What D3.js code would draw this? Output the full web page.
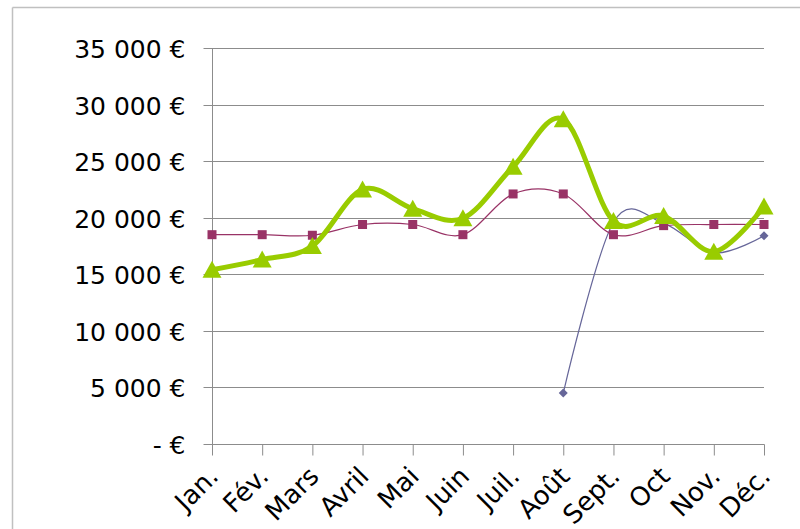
<!DOCTYPE html>
<html><head><meta charset="utf-8">
<script src="https://cdn.jsdelivr.net/npm/d3@7"></script>
<style>
html,body{margin:0;padding:0;background:#fff;}
svg{display:block;font-family:"DejaVu Sans",sans-serif;}
</style></head>
<body>
<svg id="c" width="800" height="529"></svg>
<script>
const months = ["Jan.","Fév.","Mars","Avril","Mai","Juin","Juil.","Août","Sept.","Oct","Nov.","Déc."];
const seriesBlue = [null,null,null,null,null,null,null,4500,19600,19500,16900,18400];
const seriesPurple = [18500,18500,18450,19400,19400,18500,22100,22100,18500,19300,19400,19400];
const seriesGreen = [15400,16300,17500,22500,20800,19950,24500,28700,19700,20150,17000,21000];
const yTicks = [0,5000,10000,15000,20000,25000,30000,35000];

const svg = d3.select("#c");
const x = d3.scalePoint().domain(months).range([212,764]).padding(0);
const y = d3.scaleLinear().domain([0,35000]).range([444,48]);

// chart area frame
svg.append("line").attr("x1",12.5).attr("x2",800).attr("y1",7.5).attr("y2",7.5).attr("stroke","#c0c0c0").attr("stroke-width",1.5);
svg.append("line").attr("x1",12.5).attr("x2",12.5).attr("y1",7.5).attr("y2",529).attr("stroke","#c0c0c0").attr("stroke-width",1.5);

const fmt = v => v === 0 ? "- €" : d3.format(",")(v).replace(/,/g," ") + " €";

// gridlines
svg.append("g").selectAll("line").data(yTicks.filter(v=>v>0)).join("line")
  .attr("x1",212).attr("x2",764)
  .attr("y1",d=>Math.round(y(d))+0.5).attr("y2",d=>Math.round(y(d))+0.5)
  .attr("stroke","#8c8c8c").attr("stroke-width",1);

// y axis
const yAxis = d3.axisLeft(y).tickValues(yTicks).tickSize(9).tickFormat(fmt);
const gy = svg.append("g").attr("transform","translate(212.5,0)").call(yAxis);
gy.select(".domain").attr("stroke","#8c8c8c").attr("d","M0,48V444.5");
gy.selectAll(".tick line").attr("stroke","#8c8c8c");
gy.selectAll(".tick text").attr("x",-27).attr("dy","0.36em").attr("font-size",25).attr("fill","#000").attr("font-family","DejaVu Sans");
gy.selectAll(".tick").attr("transform",d=>`translate(0,${Math.round(y(d))+0.5})`);

// x axis
const xAxis = d3.axisBottom(x).tickSize(11).tickFormat(d=>d);
const gx = svg.append("g").attr("transform","translate(0,444.5)").call(xAxis);
gx.select(".domain").attr("stroke","#8c8c8c").attr("d","M212,0H764.5");
gx.selectAll(".tick line").attr("stroke","#8c8c8c");
gx.selectAll(".tick text")
  .attr("font-size",26).attr("fill","#000").attr("font-family","DejaVu Sans")
  .attr("text-anchor","end").attr("dy","0.35em")
  .attr("transform","translate(1,27) rotate(-45)").attr("y",0).attr("x",0);

const curve = d3.curveCardinal.tension(0);
function drawSeries(vals, color, width){
  const line = d3.line().defined(d=>d.v!=null).x(d=>x(d.m)).y(d=>y(d.v)).curve(curve);
  const data = months.map((m,i)=>({m, v: vals[i]}));
  svg.append("path").datum(data).attr("d",line).attr("fill","none")
    .attr("stroke",color).attr("stroke-width",width).attr("stroke-linejoin","round");
  return data.filter(d=>d.v!=null);
}

const b = drawSeries(seriesBlue,"#666699",1.2);
svg.append("g").selectAll("path").data(b).join("path")
  .attr("transform",d=>`translate(${x(d.m)},${y(d.v)})`)
  .attr("d","M0,-4.5L4.5,0L0,4.5L-4.5,0Z").attr("fill","#666699");

const p = drawSeries(seriesPurple,"#993366",1.2);
svg.append("g").selectAll("rect").data(p).join("rect")
  .attr("x",d=>x(d.m)-4.5).attr("y",d=>y(d.v)-4.5).attr("width",9).attr("height",9).attr("fill","#993366");

const g = drawSeries(seriesGreen,"#99cc00",5);
svg.append("g").selectAll("path").data(g).join("path")
  .attr("transform",d=>`translate(${x(d.m)},${y(d.v)})`)
  .attr("d","M0,-9L9.5,8L-9.5,8Z").attr("fill","#99cc00");
</script>
</body></html>
